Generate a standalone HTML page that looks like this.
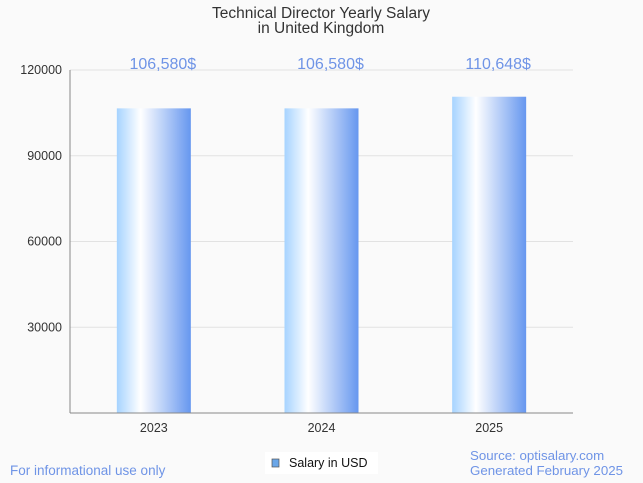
<!DOCTYPE html>
<html><head><meta charset="utf-8"><style>
body{margin:0;background:#fafafa;font-family:"Liberation Sans",sans-serif}
svg{display:block}
</style></head><body>
<svg id="c" width="643" height="483" xmlns="http://www.w3.org/2000/svg">
<defs><linearGradient id="g" x1="0" x2="1" y1="0" y2="0">
<stop offset="0" stop-color="#a6d3ff"/><stop offset="0.32" stop-color="#ffffff"/><stop offset="1" stop-color="#6697ef"/>
</linearGradient></defs>
<rect x="0" y="0" width="643" height="483" fill="#fafafa"/>
<text x="321" y="18" text-anchor="middle" font-size="15.5" fill="#333">Technical Director Yearly Salary</text>
<text x="321" y="33" text-anchor="middle" font-size="15.5" fill="#333">in United Kingdom</text>
<g id="grid"></g><g id="bars"></g>
<line x1="70" y1="413" x2="573" y2="413" stroke="#888"/>
<line x1="70" y1="70" x2="70" y2="413" stroke="#888"/>
<rect x="265" y="452" width="113" height="22" fill="#fff"/>
<rect x="272" y="459" width="7" height="8" fill="#6aa6e8" stroke="#555" stroke-width="0.7"/>
<text x="289" y="467" font-size="12.5" fill="#111">Salary in USD</text>
<text x="10" y="475" font-size="13.5" fill="#6f94e6">For informational use only</text>
<text x="470" y="460" font-size="13.3" fill="#6f94e6">Source: optisalary.com</text>
<text x="470" y="475" font-size="13.3" fill="#6f94e6">Generated February 2025</text>
</svg>
<script>
const categories=["2023","2024","2025"];
const values=[106580,106580,110648];
const labels=["106,580$","106,580$","110,648$"];
const yTicks=[30000,60000,90000,120000];
const NS="http://www.w3.org/2000/svg";
const x0=70,x1=573,yb=413,yt=70,ymax=120000;
const y=v=>yb-v/ymax*(yb-yt);
const bw=(x1-x0)/categories.length;
const xc=i=>x0+bw*(i+0.5);
function mk(t,a,p){const e=document.createElementNS(NS,t);for(const k in a)e.setAttribute(k,a[k]);p.appendChild(e);return e;}
const grid=document.getElementById('grid'),bars=document.getElementById('bars');
yTicks.forEach(v=>{
 const l=mk('line',{x1:x0,x2:x1,y1:y(v),y2:y(v),stroke:'#e2e2e2'},grid);
 
 
 const t=mk('text',{x:x0-8,y:y(v)+4,'text-anchor':'end','font-size':12.5,fill:'#333'},grid);
 t.textContent=v;
 
 
});
categories.forEach((c,i)=>{
 const r=mk('rect',{x:xc(i)-37,y:y(values[i]),width:74,height:yb-y(values[i]),fill:'url(#g)'},bars);
 
 
 const t=mk('text',{x:xc(i)+9,y:y(120000)-1,'text-anchor':'middle','font-size':16,fill:'#6f94e6'},bars);
 t.textContent=labels[i];
 
 
 const xt=mk('text',{x:xc(i),y:432,'text-anchor':'middle','font-size':12.5,fill:'#333'},bars);
 xt.textContent=c;
 
 
});
</script>
</body></html>
